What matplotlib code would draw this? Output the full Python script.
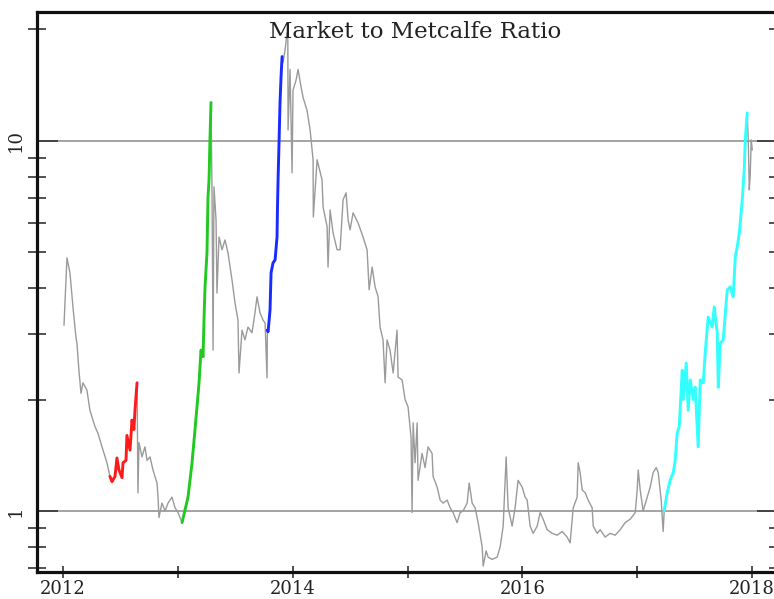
import matplotlib
matplotlib.use("Agg")
import matplotlib.pyplot as plt
import numpy as np
from matplotlib.ticker import FixedLocator, NullFormatter, FixedFormatter, LogLocator

# Market cap to Metcalfe value ratio (decimal year, ratio)
years = [
    2012.009, 2012.035, 2012.061, 2012.087, 2012.096, 2012.113, 2012.122, 2012.139,
    2012.157, 2012.174, 2012.209, 2012.235, 2012.279, 2012.305, 2012.340, 2012.383,
    2012.409, 2012.427, 2012.453, 2012.470, 2012.488, 2012.514, 2012.523, 2012.549,
    2012.557, 2012.584, 2012.601, 2012.618, 2012.627, 2012.645, 2012.648, 2012.653,
    2012.662, 2012.688, 2012.714, 2012.732, 2012.758, 2012.784, 2012.819, 2012.828,
    2012.836, 2012.862, 2012.889, 2012.915, 2012.949, 2012.976, 2013.002, 2013.037,
    2013.089, 2013.124, 2013.150, 2013.185, 2013.202, 2013.220, 2013.228, 2013.237,
    2013.254, 2013.263, 2013.272, 2013.280, 2013.289, 2013.298, 2013.307, 2013.315,
    2013.333, 2013.341, 2013.359, 2013.385, 2013.411, 2013.437, 2013.472, 2013.498,
    2013.524, 2013.533, 2013.559, 2013.585, 2013.611, 2013.646, 2013.672, 2013.690,
    2013.716, 2013.742, 2013.760, 2013.777, 2013.780, 2013.786, 2013.803, 2013.812,
    2013.829, 2013.847, 2013.864, 2013.868, 2013.873, 2013.882, 2013.890, 2013.899,
    2013.908, 2013.916, 2013.934, 2013.951, 2013.958, 2013.960, 2013.977, 2013.995,
    2014.003, 2014.030, 2014.047, 2014.073, 2014.091, 2014.125, 2014.152, 2014.178,
    2014.180, 2014.213, 2014.256, 2014.265, 2014.300, 2014.308, 2014.326, 2014.352,
    2014.387, 2014.413, 2014.439, 2014.465, 2014.483, 2014.500, 2014.526, 2014.570,
    2014.613, 2014.648, 2014.666, 2014.692, 2014.718, 2014.744, 2014.761, 2014.787,
    2014.805, 2014.822, 2014.848, 2014.875, 2014.909, 2014.918, 2014.953, 2014.979,
    2015.005, 2015.031, 2015.040, 2015.049, 2015.066, 2015.084, 2015.092, 2015.127,
    2015.153, 2015.179, 2015.214, 2015.223, 2015.258, 2015.284, 2015.310, 2015.345,
    2015.371, 2015.397, 2015.432, 2015.458, 2015.484, 2015.519, 2015.537, 2015.563,
    2015.589, 2015.615, 2015.650, 2015.659, 2015.685, 2015.702, 2015.737, 2015.780,
    2015.807, 2015.833, 2015.859, 2015.876, 2015.911, 2015.937, 2015.963, 2015.998,
    2016.024, 2016.042, 2016.068, 2016.094, 2016.129, 2016.155, 2016.181, 2016.216,
    2016.260, 2016.303, 2016.347, 2016.390, 2016.416, 2016.434, 2016.443, 2016.477,
    2016.486, 2016.503, 2016.521, 2016.547, 2016.573, 2016.608, 2016.617, 2016.652,
    2016.678, 2016.721, 2016.765, 2016.808, 2016.852, 2016.895, 2016.939, 2016.983,
    2017.000, 2017.009, 2017.026, 2017.052, 2017.087, 2017.113, 2017.139, 2017.166,
    2017.183, 2017.209, 2017.226, 2017.235, 2017.261, 2017.287, 2017.314, 2017.331,
    2017.348, 2017.366, 2017.392, 2017.401, 2017.427, 2017.444, 2017.462, 2017.488,
    2017.505, 2017.531, 2017.549, 2017.575, 2017.592, 2017.618, 2017.653, 2017.671,
    2017.697, 2017.706, 2017.723, 2017.749, 2017.784, 2017.810, 2017.836, 2017.854,
    2017.871, 2017.889, 2017.915, 2017.932, 2017.941, 2017.958, 2017.967, 2017.976,
    2017.984, 2017.993, 2018.002,
]

ratio = [
    3.18, 4.83, 4.40, 3.56, 3.34, 2.95, 2.84, 2.40,
    2.08, 2.22, 2.12, 1.87, 1.69, 1.62, 1.49, 1.35,
    1.24, 1.20, 1.24, 1.39, 1.29, 1.23, 1.35, 1.37,
    1.60, 1.46, 1.76, 1.66, 1.87, 2.22, 1.66, 1.12,
    1.53, 1.40, 1.49, 1.37, 1.40, 1.29, 1.19, 1.09,
    0.96, 1.05, 1.00, 1.05, 1.09, 1.02, 0.99, 0.93,
    1.09, 1.35, 1.66, 2.22, 2.72, 2.61, 3.28, 4.03,
    4.98, 7.06, 7.85, 10.06, 12.7, 7.24, 2.72, 7.51,
    6.11, 3.88, 5.50, 5.08, 5.40, 4.98, 4.21, 3.65,
    3.28, 2.36, 3.08, 2.90, 3.14, 3.03, 3.43, 3.79,
    3.43, 3.28, 3.22, 2.29, 3.08, 3.05, 3.49, 4.40,
    4.68, 4.77, 5.50, 6.63, 7.85, 10.06, 12.7, 14.9,
    16.9, 16.3, 17.6, 19.6, 18.8, 10.7, 15.6, 8.20,
    13.7, 14.6, 15.6, 14.0, 13.1, 12.1, 10.7, 8.89,
    6.23, 8.89, 7.85, 6.63, 5.86, 4.56, 6.51, 5.64,
    5.08, 5.08, 6.93, 7.24, 6.11, 5.75, 6.39, 6.00,
    5.50, 5.08, 3.96, 4.56, 4.03, 3.79, 3.14, 2.90,
    2.22, 2.90, 2.72, 2.36, 3.08, 2.30, 2.26, 2.00,
    1.91, 1.58, 0.99, 1.73, 1.35, 1.73, 1.21, 1.43,
    1.31, 1.49, 1.43, 1.24, 1.16, 1.07, 1.05, 1.07,
    1.02, 0.99, 0.93, 0.99, 1.00, 1.05, 1.19, 1.05,
    1.02, 0.93, 0.80, 0.71, 0.78, 0.75, 0.74, 0.75,
    0.80, 0.91, 1.40, 1.02, 0.91, 1.02, 1.21, 1.16,
    1.09, 1.07, 0.91, 0.87, 0.91, 0.99, 0.95, 0.89,
    0.87, 0.86, 0.88, 0.85, 0.82, 0.95, 1.02, 1.09,
    1.35, 1.27, 1.14, 1.12, 1.07, 1.02, 0.91, 0.87,
    0.89, 0.85, 0.87, 0.86, 0.89, 0.93, 0.95, 0.99,
    1.14, 1.29, 1.14, 1.00, 1.09, 1.16, 1.27, 1.31,
    1.27, 1.07, 0.88, 1.00, 1.12, 1.21, 1.27, 1.37,
    1.62, 1.69, 2.40, 2.00, 2.51, 1.87, 2.26, 2.00,
    2.16, 1.49, 2.26, 2.22, 2.67, 3.34, 3.14, 3.56,
    3.03, 2.16, 2.84, 2.90, 3.96, 4.03, 3.79, 4.86,
    5.17, 5.64, 6.93, 8.35, 10.06, 11.9, 10.06, 7.37,
    8.09, 10.06, 9.46,
]

# Highlighted run-ups (start year, end year, colour)
highlight_start = [2012.409, 2013.037, 2013.780, 2017.235]
highlight_end = [2012.645, 2013.289, 2013.908, 2017.958]
highlight_color = ["#ff1a1a", "#22c922", "#1a2bff", "#33ffff"]

reference_levels = [1, 10]
year_ticks = [2012, 2013, 2014, 2015, 2016, 2017, 2018]
year_labels = ["2012", "", "2014", "", "2016", "", "2018"]

t = np.array(years)
r = np.array(ratio)

W, H = 774, 599
fig = plt.figure(figsize=(W / 100, H / 100), dpi=100)
ax = fig.add_axes([37 / W, 1 - 572 / H, (778 - 37) / W, (572 - 12) / H])

for lvl in reference_levels:
    ax.axhline(lvl, color="#8a8a8a", lw=1.1, zorder=1)

ax.plot(t, r, color="#9a9a9a", lw=1.0, zorder=2)
for s, e, c in zip(highlight_start, highlight_end, highlight_color):
    m = (t >= s) & (t <= e)
    ax.plot(t[m], r[m], color=c, lw=2.1, zorder=3, solid_capstyle="round")

ax.set_yscale("log")
ax.set_xlim(2011.774, 2018.226)
ax.set_ylim(0.684, 22.3)

serif = "DejaVu Serif"
ax.xaxis.set_major_locator(FixedLocator(year_ticks))
ax.xaxis.set_major_formatter(FixedFormatter(year_labels))
ax.yaxis.set_major_locator(FixedLocator(reference_levels))
ax.yaxis.set_major_formatter(FixedFormatter(["1", "10"]))
ax.yaxis.set_minor_locator(LogLocator(base=10, subs=np.arange(2, 10)))
ax.yaxis.set_minor_formatter(NullFormatter())

ax.tick_params(axis="x", which="major", direction="inout", length=8, width=1.2,
               color="#333333", pad=2, labelsize=13, labelcolor="#222222")
ax.tick_params(axis="y", which="major", direction="in", length=15, width=1.2,
               color="#333333", pad=9, labelsize=13, labelcolor="#222222",
               right=True, labelright=False)
ax.tick_params(axis="y", which="minor", direction="inout", length=13, width=1.2,
               color="#333333", right=True)
for lab in ax.get_xticklabels() + ax.get_yticklabels():
    lab.set_fontfamily(serif)
for lab in ax.get_yticklabels():
    lab.set_rotation(90)
    lab.set_va("center")

for side in ["left", "top", "bottom"]:
    ax.spines[side].set_linewidth(2.3)
    ax.spines[side].set_color("#111111")
ax.spines["right"].set_visible(False)

fig.text(415 / W, 1 - 32 / H, "Market to Metcalfe Ratio", ha="center", va="center",
         fontsize=16.5, family=serif, color="#222222")

fig.savefig("out.png", dpi=100, facecolor="white")
